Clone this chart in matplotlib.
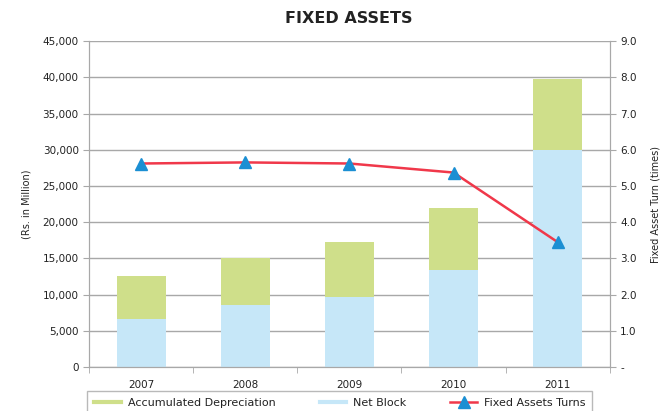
import numpy as np
import matplotlib
matplotlib.use("Agg")
import matplotlib.pyplot as plt
from matplotlib.lines import Line2D
from matplotlib.ticker import FuncFormatter, MultipleLocator

plt.rcParams["font.family"] = ["DejaVu Sans"]

# ==========================
# data
# ==========================
years = ["2007", "2008", "2009", "2010", "2011"]
net_block = [6600, 8500, 9600, 13400, 30000]
accum_dep = [5900, 6500, 7600, 8600, 9800]
asset_turns = [5.62, 5.65, 5.62, 5.37, 3.45]

green = "#cfdf8a"
blue = "#c6e7f8"
red = "#f0384a"
tri = "#1b8fd3"
grid_c = "#a8a8a8"
txt_c = "#222222"

fig = plt.figure(figsize=(6.7, 4.11), dpi=100)
ax = fig.add_axes([0.133, 0.107, 0.777, 0.793])
ax2 = ax.twinx()

x = np.arange(len(years))
w = 0.47

ax.bar(x, net_block, w, color=blue, zorder=2)
ax.bar(x, accum_dep, w, bottom=net_block, color=green, zorder=2)

l1, = ax2.plot(x, asset_turns, color=red, lw=1.8, marker="^",
               markersize=8, markerfacecolor=tri, markeredgecolor=tri,
               zorder=3)

# axes
ax.set_xlim(-0.5, len(years) - 0.5)
ax.set_ylim(0, 45000)
ax.yaxis.set_major_locator(MultipleLocator(5000))
ax.yaxis.set_major_formatter(FuncFormatter(lambda v, p: f"{v:,.0f}"))
ax2.set_ylim(0, 9)
ax2.yaxis.set_major_locator(MultipleLocator(1))
ax2.yaxis.set_major_formatter(FuncFormatter(lambda v, p: "-" if v == 0 else f"{v:.1f}"))

ax.set_xticks(x)
ax.set_xticklabels(years)
ax.set_xticks(np.arange(-0.5, len(years)), minor=True)
ax.tick_params(axis="x", which="major", length=0, labelsize=7.5, pad=9,
               labelcolor=txt_c)
ax.tick_params(axis="x", which="minor", length=4, color=grid_c)
ax.tick_params(axis="y", labelsize=7.5, length=4, color=grid_c, labelcolor=txt_c)
ax2.tick_params(axis="y", labelsize=7.5, length=4, color=grid_c, labelcolor=txt_c)

ax.grid(axis="y", color=grid_c, lw=1, zorder=0)
ax.set_axisbelow(True)

for a in (ax, ax2):
    a.spines["top"].set_visible(False)
    for s in ("left", "right", "bottom"):
        a.spines[s].set_color(grid_c)

ax.set_ylabel("(Rs. in Million)", fontsize=7, labelpad=8, color=txt_c)
ax2.set_ylabel("Fixed Asset Turn (times)", fontsize=7, labelpad=10, color=txt_c)

fig.text(0.52, 0.955, "FIXED ASSETS", ha="center", va="center",
         fontsize=11.5, fontweight="bold", color=txt_c)

h_dep = Line2D([], [], color=green, lw=3)
h_net = Line2D([], [], color=blue, lw=3)
fig.legend([h_dep, h_net, l1],
           ["Accumulated Depreciation", "Net Block", "Fixed Assets Turns"],
           loc="upper left", bbox_to_anchor=(0.130, -0.1, 0.754, 0.1487),
           mode="expand", ncol=3, fontsize=8, frameon=True, fancybox=False,
           edgecolor=grid_c, borderaxespad=0, handlelength=2.4,
           borderpad=0.65, labelcolor=txt_c, handletextpad=0.6)

fig.savefig("out.png", dpi=100)
